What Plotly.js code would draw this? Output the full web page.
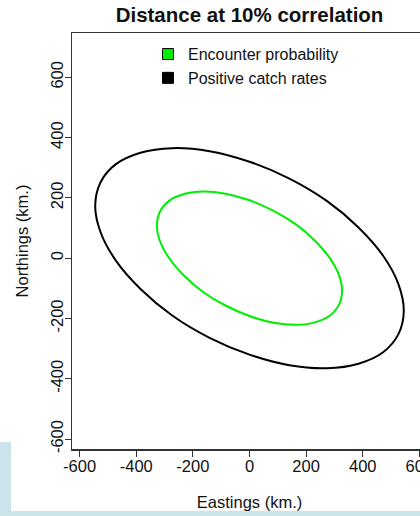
<!DOCTYPE html>
<html>
<head>
<meta charset="utf-8">
<script src="https://cdn.plot.ly/plotly-3.0.1.min.js"></script>
<style>
  html, body { margin: 0; padding: 0; width: 420px; height: 516px; overflow: hidden; background: #ffffff; }
  #chart { position: absolute; left: 0; top: 0; width: 440px; height: 516px; }
  .bluebox { position: absolute; background: #cbe4e9; z-index: 5; }
</style>
</head>
<body>
<div id="chart"></div>
<div class="bluebox" style="left:0;top:442px;width:11px;height:74px;"></div>
<div class="bluebox" style="left:0;top:511px;width:420px;height:5px;"></div>
<script>
// Outer (black) contour: Positive catch rates (km)
const outerEast  = [545, 526, 472, 385, 273, 141, 0, -141, -273, -385, -472, -526, -545, -526, -472, -385, -273, -141, 0, 141, 273, 385, 472, 526, 545];
const outerNorth = [-175, -86, 8, 102, 190, 264, 320, 355, 365, 350, 312, 252, 175, 86, -8, -102, -190, -264, -320, -355, -365, -350, -312, -252, -175];
// Inner (green) contour: Encounter probability (km)
const innerEast  = [327, 316, 283, 231, 164, 85, 0, -85, -164, -231, -283, -316, -327, -316, -283, -231, -164, -85, 0, 85, 164, 231, 283, 316, 327];
const innerNorth = [-109, -56, 1, 58, 112, 157, 192, 214, 221, 213, 191, 155, 109, 56, -1, -58, -112, -157, -192, -214, -221, -213, -191, -155, -109];

const seriesNames = ["Encounter probability", "Positive catch rates"];
const seriesColors = ["#00ee00", "#000000"];
const xTicks = [-600, -400, -200, 0, 200, 400, 600];
const yTicks = [-600, -400, -200, 0, 200, 400, 600];

const font = "Liberation Sans, Arial, Helvetica, sans-serif";

const traces = [
  { x: outerEast, y: outerNorth, mode: "lines", line: { color: seriesColors[1], width: 2, shape: "spline", smoothing: 1 }, showlegend: false, hoverinfo: "skip" },
  { x: innerEast, y: innerNorth, mode: "lines", line: { color: seriesColors[0], width: 2, shape: "spline", smoothing: 1 }, showlegend: false, hoverinfo: "skip" },
  { x: [null], y: [null], mode: "markers", name: seriesNames[0], marker: { symbol: "square", size: 11, color: seriesColors[0], line: { color: "#000", width: 1 } } },
  { x: [null], y: [null], mode: "markers", name: seriesNames[1], marker: { symbol: "square", size: 11, color: seriesColors[1], line: { color: "#000", width: 1 } } }
];

const axisCommon = {
  showgrid: false, zeroline: false, showline: true, mirror: true,
  linecolor: "#333", linewidth: 1.5,
  ticks: "outside", ticklen: 6, tickwidth: 1, tickcolor: "#333",
  tickfont: { family: font, size: 16.5, color: "#111" },
  tickmode: "array"
};

const layout = {
  width: 440, height: 516,
  margin: { l: 72, r: 13, t: 33, b: 67 },
  paper_bgcolor: "rgba(0,0,0,0)", plot_bgcolor: "#ffffff",
  title: { text: "<b>Distance at 10% correlation</b>", font: { family: font, size: 20.5, color: "#111" },
           x: 0.5, xref: "paper", y: 0.972, yref: "container", yanchor: "middle" },
  xaxis: Object.assign({}, axisCommon, {
    range: [-627, 627], tickvals: xTicks, ticktext: xTicks.map(String), ticklabelstandoff: -4,
    title: { text: "Eastings (km.)", font: { family: font, size: 16.5, color: "#111" }, standoff: 22 }
  }),
  yaxis: Object.assign({}, axisCommon, {
    range: [-633, 747], tickvals: yTicks, ticktext: yTicks.map(String), tickangle: -90, ticklabelstandoff: -5,
    title: { text: "Northings (km.)", font: { family: font, size: 16.5, color: "#111" }, standoff: 15 }
  }),
  legend: { x: 0.214, y: 0.990, xanchor: "left", yanchor: "top", bgcolor: "rgba(0,0,0,0)",
            font: { family: font, size: 16, color: "#111" }, tracegroupgap: 0 },
  showlegend: true
};

Plotly.newPlot("chart", traces, layout, { staticPlot: true, displayModeBar: false });
</script>
</body>
</html>
